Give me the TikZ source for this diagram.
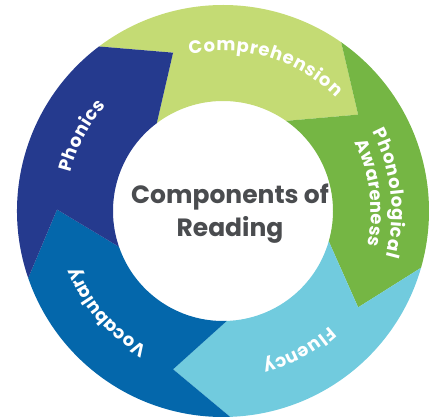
\documentclass[tikz,border=0pt]{standalone}
\usepackage{fontspec}
\setmainfont{Poppins}
\usetikzlibrary{decorations.text}

\begin{document}
\begin{tikzpicture}[x=1pt,y=1pt,
    seg_text/.style={decorate,decoration={text along path,text color=white,
        text align={fit to path},text={|\fontsize{18}{20}\selectfont\bfseries|#1}}}]
    \definecolor{color_comp}{HTML}{C4DB74}
    \definecolor{color_phon}{HTML}{75B644}
    \definecolor{color_flu}{HTML}{71CBDE}
    \definecolor{color_voc}{HTML}{0467AB}
    \definecolor{color_phx}{HTML}{253A8E}
    \definecolor{color_txt}{HTML}{4A4C4F}
    \useasboundingbox (-223,-208) rectangle (206,211);

    \fill[color_comp] (127:206) arc[start angle=127,end angle=55,radius=206] -- (35.5:166) -- (55:110) arc[start angle=55,end angle=127,radius=110] -- (107.5:166) -- cycle;

    \fill[color_phon] (55:206) arc[start angle=55,end angle=-16,radius=206] -- (-35.5:166) -- (-16:110) arc[start angle=-16,end angle=55,radius=110] -- (35.5:166) -- cycle;

    \fill[color_flu] (-16:206) arc[start angle=-16,end angle=-88,radius=206] -- (-107.5:166) -- (-88:110) arc[start angle=-88,end angle=-16,radius=110] -- (-35.5:166) -- cycle;

    \fill[color_voc] (-88:206) arc[start angle=-88,end angle=-161,radius=206] -- (-180.5:166) -- (-161:110) arc[start angle=-161,end angle=-88,radius=110] -- (-107.5:166) -- cycle;

    \fill[color_phx] (-161:206) arc[start angle=-161,end angle=-233,radius=206] -- (-252.5:166) -- (-233:110) arc[start angle=-233,end angle=-161,radius=110] -- (-180.5:166) -- cycle;

    \path[seg_text=Comprehension] (102:160) arc[start angle=102,end angle=45,radius=160];
    \path[seg_text=Phonological] (28:169) arc[start angle=28,end angle=-15.5,radius=169];
    \path[seg_text=Awareness] (27.5:148) arc[start angle=27.5,end angle=-13.5,radius=148];
    \path[seg_text=Fluency] (-47.5:157) arc[start angle=-47.5,end angle=-75.5,radius=157];
    \path[seg_text=Vocabulary] (-119:156) arc[start angle=-119,end angle=-159,radius=156];
    \path[seg_text=Phonics] (166:157) arc[start angle=166,end angle=138,radius=157];

    \node[align=center,text=color_txt,font=\fontsize{25}{33}\selectfont\bfseries] (title) at (7,-3) {Components of\\Reading};

\end{tikzpicture}
\end{document}
